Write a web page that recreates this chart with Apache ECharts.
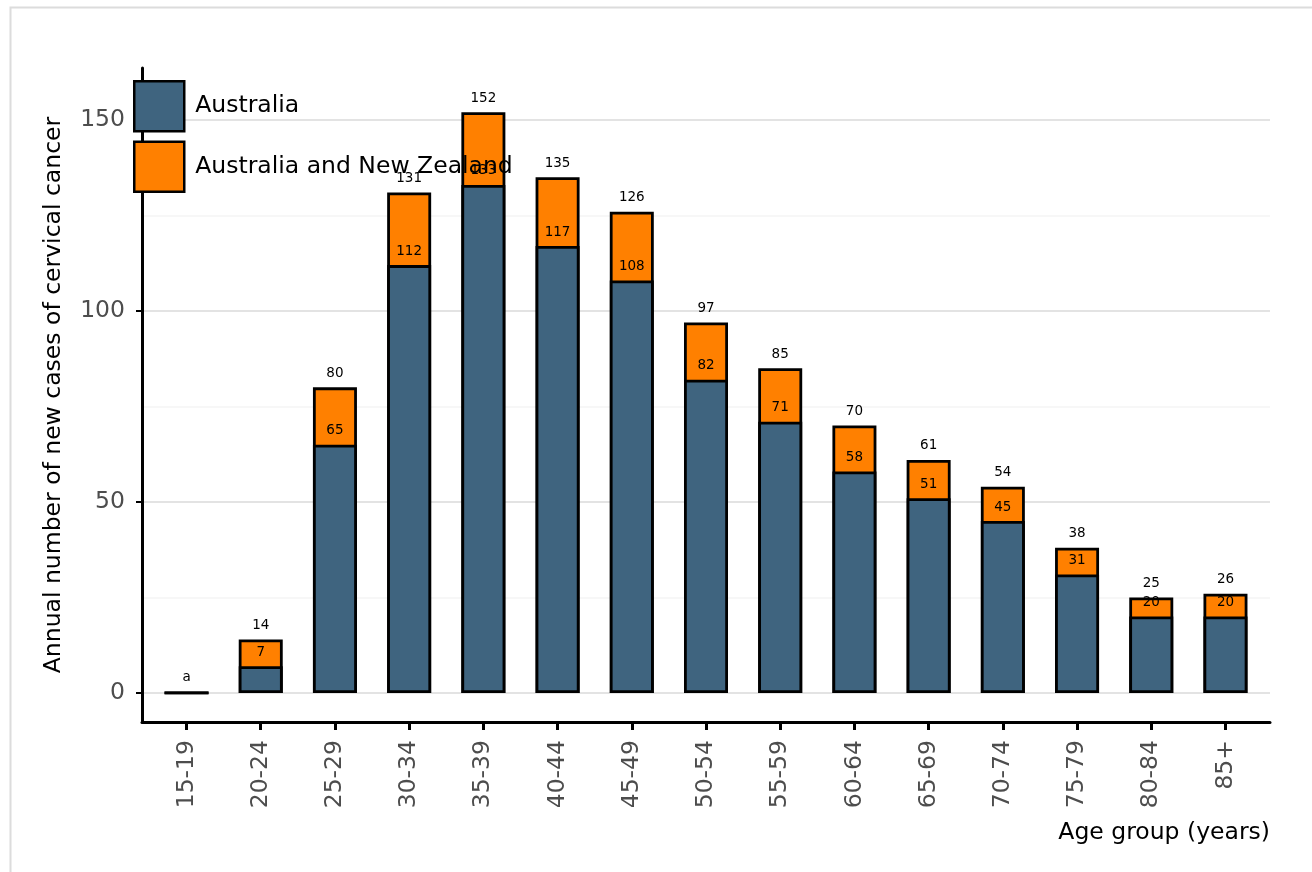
<!DOCTYPE html>
<html>
<head>
<meta charset="utf-8">
<script src="https://cdn.jsdelivr.net/npm/echarts@6/dist/echarts.min.js"></script>
<style>
html,body{margin:0;padding:0;background:#fff;}
#chart{width:1312px;height:872px;}
</style>
</head>
<body>
<div id="chart"></div>
<script>
const categories = ['15-19','20-24','25-29','30-34','35-39','40-44','45-49','50-54','55-59','60-64','65-69','70-74','75-79','80-84','85+'];
const australia = [0, 7, 65, 112, 133, 117, 108, 82, 71, 58, 51, 45, 31, 20, 20];
const australiaNZ = [0, 14, 80, 131, 152, 135, 126, 97, 85, 70, 61, 54, 38, 25, 26];
const australiaLabels = ['', '7', '65', '112', '133', '117', '108', '82', '71', '58', '51', '45', '31', '20', '20'];
const australiaNZLabels = ['a', '14', '80', '131', '152', '135', '126', '97', '85', '70', '61', '54', '38', '25', '26'];
const yTicks = [0, 50, 100, 150];
const yMinorTicks = [25, 75, 125];

const chart = echarts.init(document.getElementById('chart'), null, {renderer: 'canvas'});
const font = 'DejaVu Sans';
const idx = categories.map((c, i) => i);

chart.setOption({
  animation: false,
  textStyle: {fontFamily: font},
  graphic: [{
    type: 'rect', left: 8, top: 5, silent: true, z: -10,
    shape: {width: 1304, height: 900},
    style: {fill: 'none', stroke: '#dcdcdc', lineWidth: 2}
  }],
  title: {
    text: 'Age group (years)', right: 37, top: 816,
    textStyle: {fontFamily: font, fontSize: 23.5, fontWeight: 'normal', color: '#000'}
  },
  legend: {
    orient: 'vertical', left: 133, top: 80, padding: 0,
    itemWidth: 50, itemHeight: 50, itemGap: 8,
    icon: 'rect',
    data: ['Australia', 'Australia and New Zealand'],
    textStyle: {fontFamily: font, fontSize: 23.5, color: '#000', padding: [0, 0, 0, 6]},
    itemStyle: {borderColor: '#000', borderWidth: 2.5}
  },
  grid: {left: 142, right: 42, top: 68, bottom: 150},
  xAxis: {
    type: 'value', min: -0.6, max: 14.6,
    axisLine: {show: true, onZero: false, lineStyle: {color: '#000', width: 3}},
    axisTick: {show: true, customValues: idx, length: 8, lineStyle: {color: '#000', width: 3}},
    axisLabel: {
      customValues: idx, rotate: 90, margin: 18,
      formatter: v => categories[Math.round(v)],
      fontFamily: font, fontSize: 23.5, color: '#4d4d4d'
    },
    splitLine: {show: false}
  },
  yAxis: {
    type: 'value', min: -7.6, max: 163.6,
    name: 'Annual number of new cases of cervical cancer',
    nameLocation: 'middle', nameGap: 76, nameRotate: 90,
    nameTextStyle: {fontFamily: font, fontSize: 23.5, color: '#000'},
    axisLine: {show: true, onZero: false, lineStyle: {color: '#000', width: 3}},
    axisTick: {show: true, customValues: yTicks, length: 6, lineStyle: {color: '#000', width: 2}},
    axisLabel: {customValues: yTicks, margin: 17, fontFamily: font, fontSize: 23.5, color: '#4d4d4d'},
    splitLine: {show: false}
  },
  series: [
    {
      name: 'Australia and New Zealand', type: 'bar', barWidth: 44, z: 2,
      data: australiaNZ.map((v, i) => [i, v]),
      itemStyle: {color: '#ff8000', borderColor: '#000', borderWidth: 2.8},
      label: {
        show: true, position: 'top', distance: 7,
        fontFamily: font, fontSize: 13.5, color: '#000',
        formatter: p => australiaNZLabels[p.dataIndex]
      },
      markLine: {
        silent: true, symbol: 'none', z: 0,
        label: {show: false},
        data: yTicks.map(v => ({yAxis: v, lineStyle: {color: '#e3e3e3', width: 2, type: 'solid'}}))
          .concat(yMinorTicks.map(v => ({yAxis: v, lineStyle: {color: '#f4f4f4', width: 1.5, type: 'solid'}})))
      }
    },
    {
      name: 'Australia', type: 'bar', barWidth: 44, barGap: '-100%', z: 3,
      data: australia.map((v, i) => [i, v]),
      itemStyle: {color: '#3f647f', borderColor: '#000', borderWidth: 2.8},
      label: {
        show: true, position: 'top', distance: 7,
        fontFamily: font, fontSize: 13.5, color: '#000',
        formatter: p => australiaLabels[p.dataIndex]
      }
    }
  ]
});
</script>
</body>
</html>
